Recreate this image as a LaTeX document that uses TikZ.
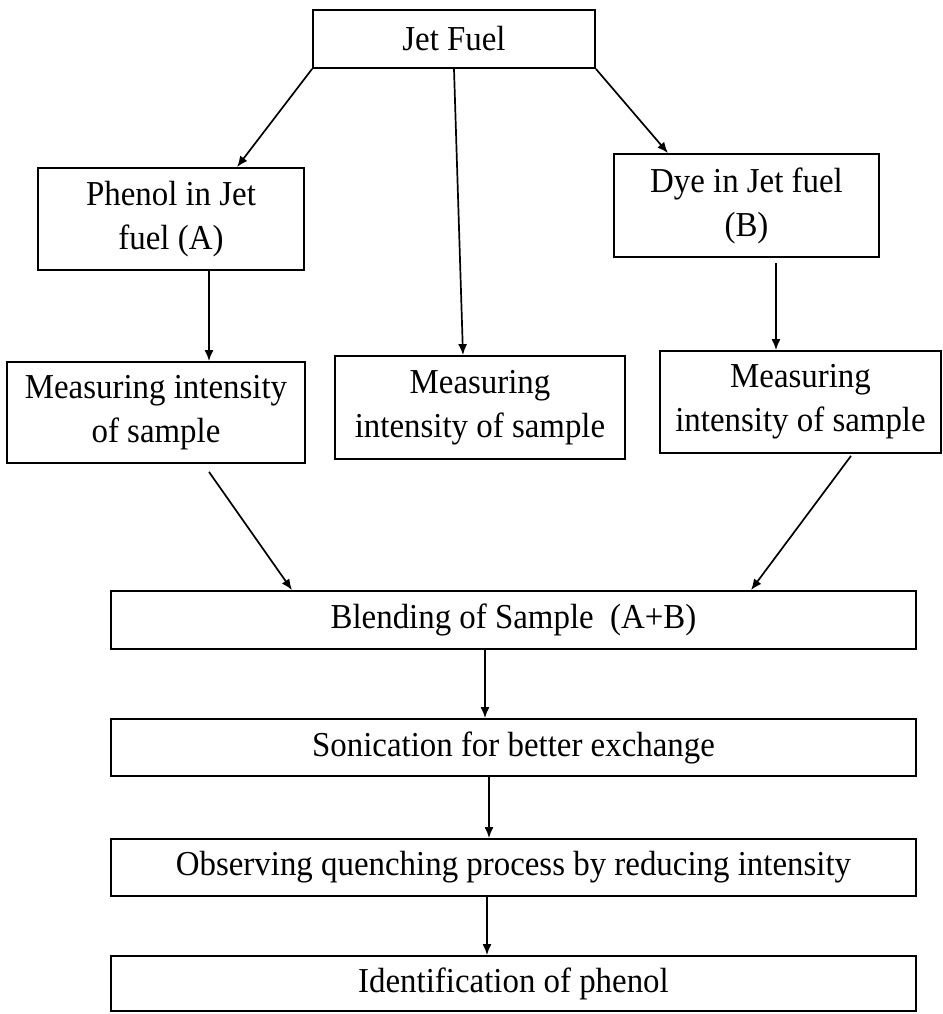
\documentclass[tikz,border=0pt]{standalone}
\usepackage{fontspec}
\setmainfont{Liberation Serif}[FakeStretch=0.94]
\usetikzlibrary{arrows.meta,calc}
\begin{document}
\begin{tikzpicture}[x=0.5pt,y=-0.5pt,
  box/.style={draw=black,line width=0.9pt,inner sep=0pt,align=center,
    font=\fontsize{17.5pt}{22pt}\selectfont},
  conn/.style={draw=black,line width=0.85pt,-{Latex[length=5.5pt,width=4.5pt]}}]
\useasboundingbox (0,0) rectangle (943,1014);
\node[box,minimum width=141pt,minimum height=29pt] (jet) at (454,39) {Jet Fuel};
\node[box,minimum width=133pt,minimum height=51pt] (phenol) at (171,219) {Phenol in Jet\\fuel (A)};
\node[box,minimum width=132.5pt,minimum height=51.5pt] (dye) at (746.5,205.5) {Dye in Jet fuel\\(B)};
\node[box,minimum width=149pt,minimum height=50.5pt] (mleft) at (156,412.5) {Measuring intensity\\of sample};
\node[box,minimum width=145pt,minimum height=51.5pt] (mmid) at (480,407.5) {Measuring\\intensity of sample};
\node[box,minimum width=140.5pt,minimum height=51pt] (mright) at (800.5,402) {Measuring\\intensity of sample};
\node[box,minimum width=402.5pt,minimum height=29pt] (blend) at (513.5,620) {Blending of Sample\ \ (A+B)};
\node[box,minimum width=402.5pt,minimum height=28.5pt] (sonic) at (513.5,747.5) {Sonication for better exchange};
\node[box,minimum width=402.5pt,minimum height=28.5pt] (obs) at (513.5,867.5) {Observing quenching process by reducing intensity};
\node[box,minimum width=402.5pt,minimum height=27.5pt] (ident) at (513.5,983.5) {Identification of phenol};
\draw[conn] (jet.south west) -- ([xshift=33pt]phenol.north);
\draw[conn] (jet.south) -- ([xshift=-8.5pt]mmid.north);
\draw[conn] (jet.south east) -- ([xshift=-39.25pt]dye.north);
\draw[conn] ([xshift=19pt]phenol.south) -- ([xshift=26.5pt]mleft.north);
\draw[conn] ([xshift=14.75pt,yshift=-2.5pt]dye.south) -- ([xshift=-12.25pt]mright.north);
\draw[conn] ([xshift=26.5pt,yshift=-4pt]mleft.south) -- ([xshift=-110.75pt]blend.north);
\draw[conn] ([xshift=25.25pt,yshift=-1pt]mright.south) -- ([xshift=118.75pt]blend.north);
\draw[conn] ([xshift=-14.25pt]blend.south) -- ([xshift=-14.25pt]sonic.north);
\draw[conn] ([xshift=-12.25pt]sonic.south) -- ([xshift=-12.25pt]obs.north);
\draw[conn] ([xshift=-13.25pt]obs.south) -- ([xshift=-13.25pt]ident.north);
\end{tikzpicture}
\end{document}
